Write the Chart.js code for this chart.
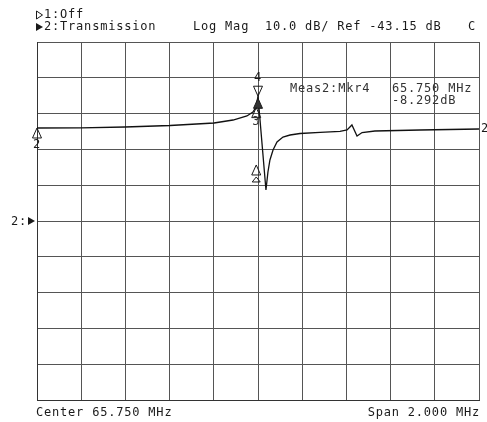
<!DOCTYPE html>
<html>
<head>
<meta charset="utf-8">
<script src="https://cdn.jsdelivr.net/npm/chart.js@4.4.1/dist/chart.umd.min.js"></script>
<style>
body { margin: 0; background: #fff; }
canvas { display: block; }
</style>
</head>
<body>
<canvas id="chart" width="487" height="422"></canvas>
<script>
// sweep settings shown on the screen
const centerMHz = 65.75;
const spanMHz = 2.0;
const refLevel = -43.15;   // dB, at the centre line
const dbPerDiv = 10;
const divisions = 10;

// trace 2 (transmission)
const freqs = [64.750, 64.949, 65.148, 65.352, 65.551, 65.637, 65.700, 65.727, 65.741, 65.750,
               65.786, 65.795, 65.804, 65.818, 65.836, 65.863, 65.895, 65.940, 66.031, 66.121,
               66.153, 66.175, 66.198, 66.221, 66.279, 66.483, 66.750];
const mags = [-17.17, -17.12, -16.89, -16.47, -15.78, -14.94, -13.82, -12.70, -11.31, -8.29,
              -34.49, -29.46, -26.11, -23.32, -21.08, -19.69, -19.13, -18.71, -18.37, -18.09,
              -17.73, -16.33, -19.41, -18.43, -18.01, -17.73, -17.45];

// markers
const markerIds = ['4', '1', '3', '2'];
const markerFreqs = [65.750, 65.750, 65.742, 65.742];
const markerMags = [-8.292, -8.6, -12.6, -27.5];

const startF = centerMHz - spanMHz / 2;
const stopF = centerMHz + spanMHz / 2;
const topDb = refLevel + dbPerDiv * divisions / 2;
const botDb = refLevel - dbPerDiv * divisions / 2;

const xGrid = [];
const yGrid = [];
for (let i = 0; i <= divisions; i++) {
    xGrid.push(startF + i * spanMHz / divisions);
    yGrid.push(botDb + i * dbPerDiv);
}

const FONT = '12px "DejaVu Sans Mono"';
const INK = '#1a1a1a';

function tri(ctx, x, tipY, down, fill) {
    // triangle with its tip on (x, tipY)
    const h = 10, w = 4.5;
    const baseY = down ? tipY - h : tipY + h;
    ctx.beginPath();
    ctx.moveTo(x, tipY);
    ctx.lineTo(x - w, baseY);
    ctx.lineTo(x + w, baseY);
    ctx.closePath();
    if (fill) { ctx.fillStyle = '#333'; ctx.fill(); }
    ctx.stroke();
}

function txt(ctx, s, x, y, align) {
    ctx.textAlign = align || 'left';
    ctx.fillText(s, x, y);
}

const screenText = {
    id: 'screenText',
    afterDraw(chart) {
        const ctx = chart.ctx;
        const xs = chart.scales.x, ys = chart.scales.y;
        const ca = chart.chartArea;
        ctx.save();
        ctx.font = FONT;
        ctx.letterSpacing = '0.8px';
        ctx.fillStyle = INK;
        ctx.strokeStyle = INK;
        ctx.lineWidth = 1;
        ctx.textBaseline = 'middle';

        // header
        ctx.beginPath();
        ctx.moveTo(36.5, 11); ctx.lineTo(42.5, 15); ctx.lineTo(36.5, 19); ctx.closePath();
        ctx.stroke();
        txt(ctx, '1:Off', 44, 15);
        ctx.beginPath();
        ctx.moveTo(36, 23); ctx.lineTo(43, 27); ctx.lineTo(36, 31); ctx.closePath();
        ctx.fill();
        txt(ctx, '2:Transmission', 44, 27);
        txt(ctx, 'Log Mag', 193, 27);
        txt(ctx, dbPerDiv.toFixed(1) + ' dB/ Ref ' + refLevel.toFixed(2) + ' dB', 265, 27);
        txt(ctx, 'C', 468, 27);

        // footer
        txt(ctx, 'Center ' + centerMHz.toFixed(3) + ' MHz', 36, 413);
        txt(ctx, 'Span ' + spanMHz.toFixed(3) + ' MHz', 480, 413, 'right');

        // reference position arrow
        const ry = ys.getPixelForValue(refLevel);
        txt(ctx, '2:', 11, ry + 1);
        ctx.beginPath();
        ctx.moveTo(28, ry - 4); ctx.lineTo(35, ry); ctx.lineTo(28, ry + 4); ctx.closePath();
        ctx.fill();

        // trace ends
        const y0 = ys.getPixelForValue(mags[0]);
        tri(ctx, ca.left, y0, false, false);
        txt(ctx, '2', ca.left - 4, y0 + 17);
        txt(ctx, '2', ca.right + 2, ys.getPixelForValue(mags[mags.length - 1]));

        // markers
        markerIds.forEach((id, i) => {
            const px = xs.getPixelForValue(markerFreqs[i]);
            const py = ys.getPixelForValue(markerMags[i]);
            if (id === '4') {
                tri(ctx, px, py, true, false);
                txt(ctx, id, px - 4, py - 18);
            } else if (id === '1') {
                tri(ctx, px, py + 1, false, true);
            } else if (id === '3') {
                tri(ctx, px, py - 4, false, false);
                txt(ctx, id, px - 4, py + 10);
            } else {
                tri(ctx, px, py, false, false);
                ctx.beginPath();
                ctx.moveTo(px, py + 12); ctx.lineTo(px - 4, py + 17); ctx.lineTo(px + 4, py + 17); ctx.closePath();
                ctx.stroke();
            }
        });

        // active marker readout
        txt(ctx, 'Meas2:Mkr' + markerIds[0], 290, 89);
        txt(ctx, markerFreqs[0].toFixed(3) + ' MHz', 392, 89);
        txt(ctx, markerMags[0].toFixed(3) + 'dB', 392, 101);
        ctx.restore();
    }
};

const gridOpts = { color: '#555', lineWidth: 1, drawTicks: false };

new Chart(document.getElementById('chart').getContext('2d'), {
    type: 'scatter',
    data: {
        datasets: [{
            label: 'Transmission',
            data: freqs.map((f, i) => ({ x: f, y: mags[i] })),
            showLine: true,
            borderColor: '#111',
            borderWidth: 1.3,
            pointRadius: 0,
            tension: 0
        }]
    },
    options: {
        responsive: false,
        animation: false,
        layout: { padding: { left: 37, right: 8, top: 42, bottom: 22 } },
        plugins: { legend: { display: false }, tooltip: { enabled: false } },
        scales: {
            x: {
                type: 'linear', min: startF, max: stopF,
                ticks: { display: false },
                grid: gridOpts,
                border: { color: '#333' },
                afterBuildTicks: s => { s.ticks = xGrid.map(v => ({ value: v })); }
            },
            y: {
                type: 'linear', min: botDb, max: topDb,
                ticks: { display: false },
                grid: gridOpts,
                border: { color: '#333' },
                afterBuildTicks: s => { s.ticks = yGrid.map(v => ({ value: v })); }
            }
        }
    },
    plugins: [screenText]
});
</script>
</body>
</html>
